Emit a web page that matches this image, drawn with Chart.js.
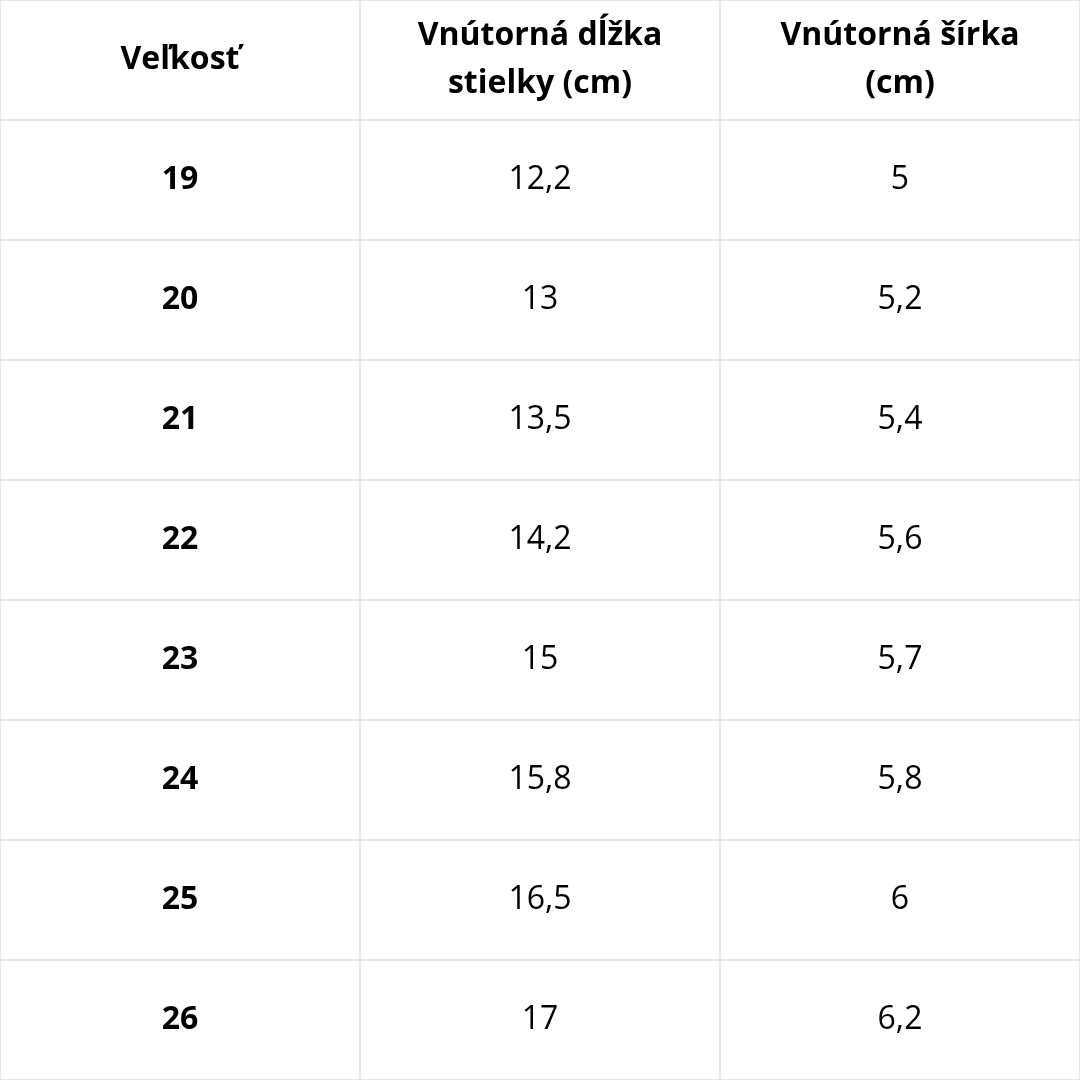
<!DOCTYPE html>
<html><head><meta charset="utf-8">
<script src="https://cdn.jsdelivr.net/npm/chart.js"></script>
<style>html,body{margin:0;padding:0;background:#fff}canvas{display:block}</style>
</head><body>
<canvas id="c" width="1080" height="1080"></canvas>
<script>
const headers = [["Veľkosť"], ["Vnútorná dĺžka", "stielky (cm)"], ["Vnútorná šírka", "(cm)"]];
const sizes = ["19","20","21","22","23","24","25","26"];
const lengths = ["12,2","13","13,5","14,2","15","15,8","16,5","17"];
const widths = ["5","5,2","5,4","5,6","5,7","5,8","6","6,2"];

const cols = [sizes, lengths, widths];
const points = [];
headers.forEach((h, c) => points.push({x: c + 0.5, y: 0.5, lines: h, bold: true}));
cols.forEach((arr, c) => arr.forEach((v, r) => points.push({x: c + 0.5, y: r + 1.5, lines: [v], bold: c === 0})));

const textPlugin = {
  id: 'cellText',
  afterDatasetsDraw(chart) {
    const ctx = chart.ctx;
    const meta = chart.getDatasetMeta(0);
    ctx.save();
    ctx.fillStyle = '#000';
    ctx.textAlign = 'center';
    ctx.textBaseline = 'middle';
    meta.data.forEach((el, i) => {
      const p = points[i];
      ctx.font = (p.bold ? '700 ' : '400 ') + '32px "Open Sans"';
      const lh = 48;
      const n = p.lines.length;
      p.lines.forEach((t, k) => ctx.fillText(t, el.x, el.y + (k - (n - 1) / 2) * lh));
    });
    ctx.restore();
  }
};

new Chart(document.getElementById('c'), {
  type: 'scatter',
  data: { datasets: [{ data: points, pointRadius: 0, pointHoverRadius: 0 }] },
  options: {
    responsive: false, devicePixelRatio: 1, animation: false,
    layout: { padding: 0 },
    plugins: { legend: {display: false}, tooltip: {enabled: false} },
    events: [],
    scales: {
      x: { type: 'linear', min: 0, max: 3, ticks: {display: false, stepSize: 1},
           grid: {color: '#e6e6e6', lineWidth: 2, drawTicks: false}, border: {display: false} },
      y: { type: 'linear', min: 0, max: 9, reverse: true, ticks: {display: false, stepSize: 1},
           grid: {color: '#e6e6e6', lineWidth: 2, drawTicks: false}, border: {display: false} }
    }
  },
  plugins: [textPlugin]
});
</script>
</body></html>
